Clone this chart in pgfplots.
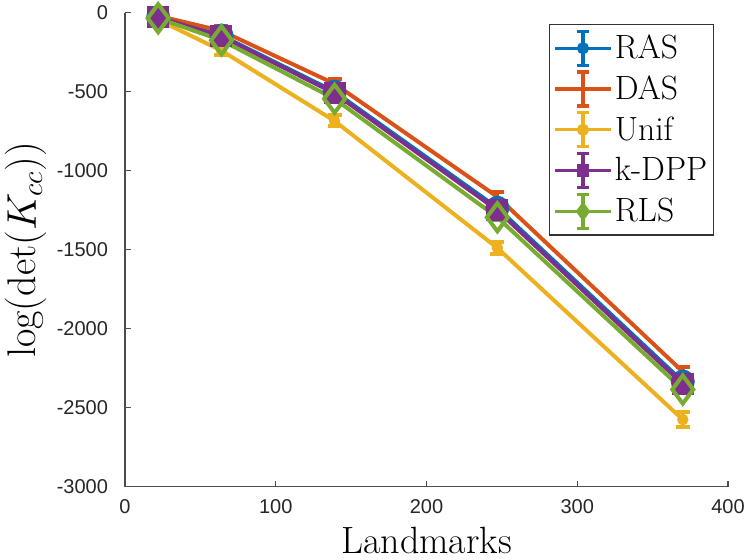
\documentclass[border=0pt]{standalone}
\usepackage{fontspec}
\usepackage{pgfplots}
\pgfplotsset{compat=1.18}
\usetikzlibrary{calc}
\newfontfamily\ticksans{Liberation Sans}
\definecolor{c1}{rgb}{0,0.447,0.741}
\definecolor{c2}{rgb}{0.850,0.325,0.098}
\definecolor{c3}{rgb}{0.929,0.694,0.125}
\definecolor{c4}{rgb}{0.494,0.184,0.556}
\definecolor{c5}{rgb}{0.466,0.674,0.188}
\pgfplotsset{
  errleg/.style 2 args={legend image code/.code={
    \draw[#1,line width=1.6pt] (0pt,0pt) -- (28pt,0pt);
    \draw[#1,line width=1.6pt] (14pt,-8.5pt) -- (14pt,8.5pt);
    \draw[#1,line width=1.6pt] (10.8pt,8.5pt) -- (17.2pt,8.5pt) (10.8pt,-8.5pt) -- (17.2pt,-8.5pt);
    #2
  }},
  myerr/.style={error bars/.cd, y dir=both, y explicit,
    error bar style={line width=2pt},
    error mark options={line width=2pt, mark size=3.5pt, rotate=90},
    /pgfplots/.cd},
}
\begin{document}
\begin{tikzpicture}
\useasboundingbox (-62.5pt,-36.5pt) rectangle (311pt,243.35pt);
\begin{axis}[
  scale only axis,
  width=301.5pt, height=237pt,
  xmin=0, xmax=400, ymin=-3000, ymax=0,
  xtick={0,100,200,300,400},
  ytick={-3000,-2500,-2000,-1500,-1000,-500,0},
  axis lines*=left,
  axis line style={black!70, line width=0.6pt},
  tick style={black!70, line width=0.6pt},
  tick align=inside,
  major tick length=3pt,
  clip=false,
  scaled ticks=false,
  /pgf/number format/assume math mode=true,
  /pgf/number format/1000 sep={},
  ticklabel style={font=\ticksans\fontsize{10}{12}\selectfont, text=black!85},
  yticklabel style={xshift=-5pt},
  xticklabel style={yshift=-3pt},
  xlabel={Landmarks},
  ylabel={$\log(\det(K_{cc}))$},
  xlabel style={at={(axis description cs:0.5,0)}, anchor=base, yshift=-33.5pt, font=\fontsize{19}{22}\selectfont},
  ylabel style={at={($(axis description cs:0,0.5)+(-44.5pt,0)$)}, anchor=base, rotate=0, font=\fontsize{20}{24}\selectfont},
  legend style={at={($(axis description cs:1,1)+(-7pt,-5.65pt)$)}, anchor=north east,
    font=\fontsize{16.8}{20}\selectfont, draw=black!80, line width=0.6pt,
    inner xsep=2pt, inner ysep=2.5pt, row sep=1.8pt,
    nodes={inner sep=1.1pt}},
  legend cell align=left,
]
\addplot[c1, line width=2pt, mark=o, mark size=5pt, mark options={solid}, myerr,
  errleg={c1}{\draw[c1,mark=*,mark size=2pt] plot coordinates {(14pt,0pt)};}]
  coordinates {(22,-28) +- (0,20) (64,-145) +- (0,20) (139,-500) +- (0,20) (247,-1235) +- (0,20) (370,-2335) +- (0,22)};
\addlegendentry{RAS}
\addplot[c2, line width=2pt, mark=none, myerr, errleg={c2}{}]
  coordinates {(22,-20) +- (0,28) (64,-115) +- (0,30) (139,-450) +- (0,32) (247,-1165) +- (0,32) (370,-2272) +- (0,32)};
\addlegendentry{DAS}
\addplot[c3, line width=2pt, mark=*, mark size=1.8pt, mark options={solid}, myerr,
  errleg={c3}{\draw[c3,mark=*,mark size=2pt] plot coordinates {(14pt,0pt)};}]
  coordinates {(22,-45) +- (0,22) (64,-240) +- (0,28) (139,-685) +- (0,35) (247,-1489) +- (0,40) (370,-2575) +- (0,45)};
\addlegendentry{Unif}
\addplot[c4, line width=2pt, mark=square*, mark size=4.5pt, mark options={solid}, myerr,
  errleg={c4}{\draw[c4,mark=square*,mark size=2.2pt] plot coordinates {(14pt,0pt)};}]
  coordinates {(22,-30) +- (0,20) (64,-150) +- (0,20) (139,-510) +- (0,20) (247,-1250) +- (0,20) (370,-2350) +- (0,22)};
\addlegendentry{k-DPP}
\addplot[c5, line width=2pt, mark=diamond, mark size=7pt, mark options={solid}, myerr,
  errleg={c5}{\draw[c5,mark=diamond*,mark size=3.2pt] plot coordinates {(14pt,0pt)};}]
  coordinates {(22,-35) +- (0,20) (64,-175) +- (0,20) (139,-545) +- (0,20) (247,-1295) +- (0,20) (370,-2385) +- (0,22)};
\addlegendentry{RLS}
\end{axis}
\end{tikzpicture}
\end{document}
